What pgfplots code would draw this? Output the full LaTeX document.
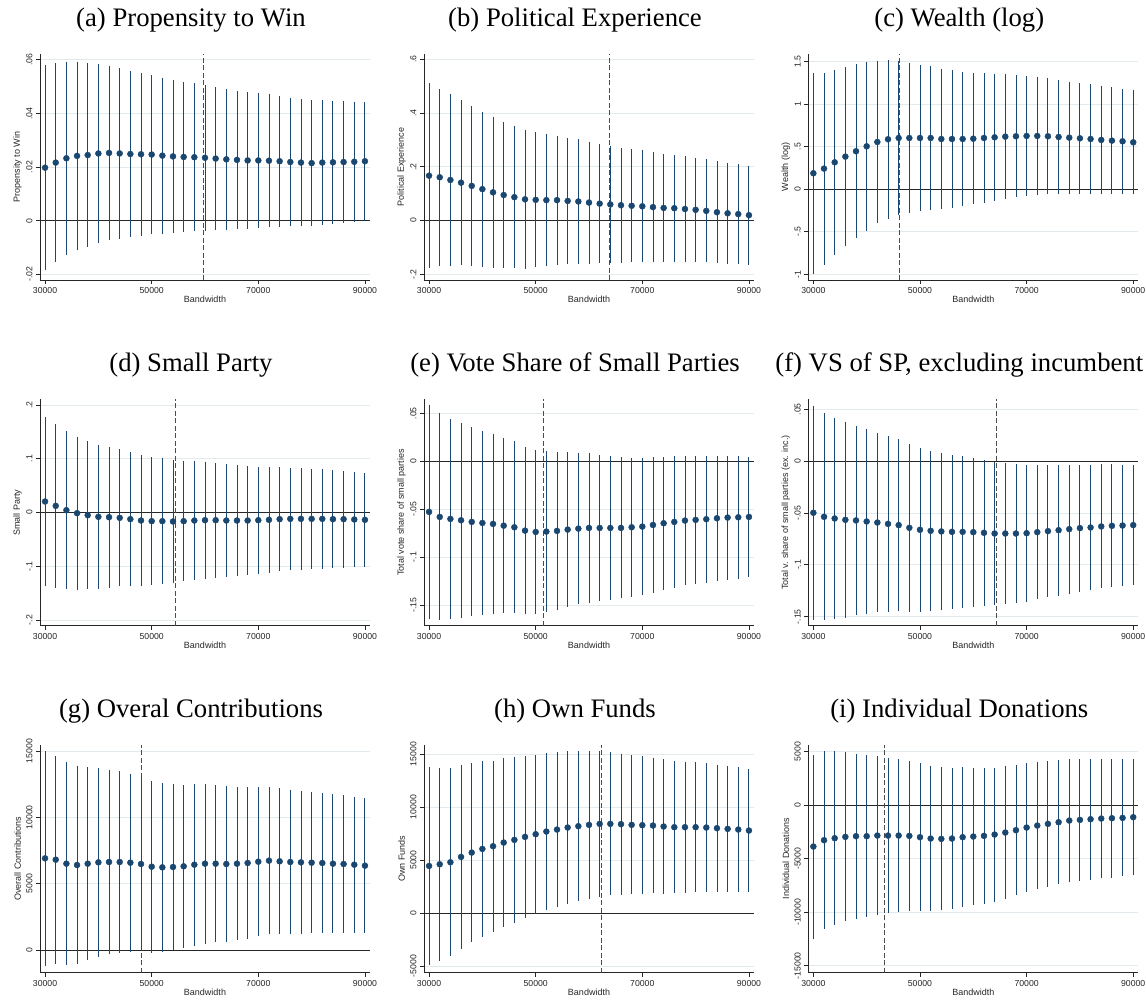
\documentclass[border=0pt]{standalone}
\usepackage{fontspec}
\setmainfont{Liberation Sans}
\newfontfamily\titlefont{Liberation Serif}
\usepackage{pgfplots}
\usepackage{pgfplotstable}
\pgfplotsset{compat=1.18}
\definecolor{navy}{RGB}{26,71,111}
\definecolor{gridc}{RGB}{226,234,237}

\pgfplotstableread{
x y e
30000 0.0198 0.0382
32000 0.0217 0.0371
34000 0.0233 0.0360
36000 0.0242 0.0352
38000 0.0245 0.0342
40000 0.0251 0.0334
42000 0.0253 0.0325
44000 0.0251 0.0318
46000 0.0249 0.0311
48000 0.0248 0.0304
50000 0.0247 0.0298
52000 0.0243 0.0291
54000 0.0240 0.0285
56000 0.0238 0.0281
58000 0.0237 0.0277
60000 0.0235 0.0272
62000 0.0232 0.0267
64000 0.0229 0.0263
66000 0.0227 0.0258
68000 0.0225 0.0255
70000 0.0225 0.0253
72000 0.0224 0.0248
74000 0.0222 0.0244
76000 0.0219 0.0240
78000 0.0217 0.0238
80000 0.0215 0.0234
82000 0.0217 0.0232
84000 0.0218 0.0230
86000 0.0219 0.0227
88000 0.0220 0.0224
90000 0.0222 0.0222
}\tabA

\pgfplotstableread{
x y e
30000 0.167 0.344
32000 0.161 0.330
34000 0.151 0.319
36000 0.141 0.307
38000 0.129 0.298
40000 0.117 0.288
42000 0.105 0.280
44000 0.095 0.271
46000 0.087 0.265
48000 0.079 0.258
50000 0.077 0.251
52000 0.076 0.246
54000 0.076 0.240
56000 0.073 0.236
58000 0.071 0.232
60000 0.067 0.227
62000 0.063 0.222
64000 0.060 0.219
66000 0.057 0.2145
68000 0.055 0.211
70000 0.053 0.208
72000 0.050 0.2045
74000 0.047 0.2015
76000 0.046 0.1995
78000 0.043 0.196
80000 0.040 0.1935
82000 0.036 0.1915
84000 0.031 0.190
86000 0.027 0.187
88000 0.024 0.185
90000 0.020 0.184
}\tabB

\pgfplotstableread{
x y e
30000 0.188 1.181
32000 0.243 1.130
34000 0.317 1.087
36000 0.384 1.054
38000 0.447 1.0225
40000 0.505 0.991
42000 0.556 0.958
44000 0.588 0.9365
46000 0.603 0.907
48000 0.603 0.887
50000 0.603 0.864
52000 0.603 0.846
54000 0.591 0.8245
56000 0.591 0.8065
58000 0.591 0.7895
60000 0.595 0.7735
62000 0.603 0.762
64000 0.611 0.748
66000 0.619 0.7305
68000 0.623 0.717
70000 0.627 0.701
72000 0.627 0.6895
74000 0.623 0.6815
76000 0.615 0.670
78000 0.607 0.660
80000 0.599 0.6525
82000 0.591 0.6425
84000 0.580 0.6345
86000 0.572 0.627
88000 0.564 0.619
90000 0.552 0.6095
}\tabC

\pgfplotstableread{
x y e
30000 0.0205 0.157
32000 0.0124 0.1525
34000 0.0043 0.1475
36000 -0.0012 0.1425
38000 -0.0050 0.138
40000 -0.0080 0.1345
42000 -0.0087 0.131
44000 -0.0099 0.1275
46000 -0.0124 0.125
48000 -0.0149 0.122
50000 -0.0161 0.119
52000 -0.0161 0.117
54000 -0.0167 0.114
56000 -0.0161 0.112
58000 -0.0149 0.1105
60000 -0.0143 0.1085
62000 -0.0143 0.107
64000 -0.0149 0.105
66000 -0.0149 0.103
68000 -0.0149 0.1015
70000 -0.0143 0.0995
72000 -0.0136 0.0983
74000 -0.0124 0.097
76000 -0.0118 0.0955
78000 -0.0118 0.0943
80000 -0.0118 0.093
82000 -0.0118 0.0924
84000 -0.0124 0.0915
86000 -0.0124 0.0902
88000 -0.0130 0.089
90000 -0.0136 0.0877
}\tabD

\pgfplotstableread{
x y e
30000 -0.0529 0.1115
32000 -0.0581 0.1079
34000 -0.0602 0.1044
36000 -0.0616 0.1016
38000 -0.0633 0.0986
40000 -0.0644 0.0959
42000 -0.0654 0.0936
44000 -0.0672 0.0916
46000 -0.0689 0.0896
48000 -0.0724 0.0873
50000 -0.0738 0.0856
52000 -0.0734 0.0838
54000 -0.0727 0.0825
56000 -0.0713 0.0807
58000 -0.0703 0.0791
60000 -0.0696 0.0778
62000 -0.0696 0.0762
64000 -0.0696 0.0748
66000 -0.0696 0.0736
68000 -0.0689 0.0726
70000 -0.0682 0.0715
72000 -0.0665 0.0705
74000 -0.0647 0.0696
76000 -0.0633 0.0687
78000 -0.0619 0.0677
80000 -0.0612 0.0668
82000 -0.0605 0.0661
84000 -0.0595 0.0652
86000 -0.0588 0.0646
88000 -0.0585 0.0639
90000 -0.0581 0.0630
}\tabE

\pgfplotstableread{
x y e
30000 -0.0498 0.1034
32000 -0.0537 0.0997
34000 -0.0553 0.0967
36000 -0.0566 0.0942
38000 -0.0572 0.0913
40000 -0.0582 0.0889
42000 -0.0592 0.0865
44000 -0.0605 0.0846
46000 -0.0617 0.0826
48000 -0.0643 0.0809
50000 -0.0662 0.0789
52000 -0.0672 0.0772
54000 -0.0678 0.0756
56000 -0.0682 0.0743
58000 -0.0682 0.0730
60000 -0.0685 0.0719
62000 -0.0691 0.0706
64000 -0.0698 0.0693
66000 -0.0698 0.0680
68000 -0.0698 0.0667
70000 -0.0695 0.0660
72000 -0.0685 0.0648
74000 -0.0675 0.0638
76000 -0.0666 0.0630
78000 -0.0656 0.0621
80000 -0.0646 0.0613
82000 -0.0640 0.0604
84000 -0.0630 0.0598
86000 -0.0624 0.0592
88000 -0.0621 0.0585
90000 -0.0617 0.0580
}\tabF

\pgfplotstableread{
x y e
30000 6910 8103
32000 6809 7839
34000 6508 7638
36000 6407 7462
38000 6508 7274
40000 6608 7098
42000 6633 6960
44000 6633 6847
46000 6583 6721
48000 6483 6558
50000 6281 6482
52000 6231 6344
54000 6256 6256
56000 6307 6168
58000 6432 6093
60000 6508 6018
62000 6508 5942
64000 6483 5854
66000 6508 5779
68000 6558 5704
70000 6658 5628
72000 6734 5565
74000 6684 5502
76000 6633 5427
78000 6608 5377
80000 6583 5314
82000 6558 5264
84000 6508 5226
86000 6483 5188
88000 6432 5138
90000 6357 5088
}\tabG

\pgfplotstableread{
x y e
30000 4442 9324
32000 4599 9104
34000 4788 8883
36000 5292 8647
38000 5702 8474
40000 6048 8285
42000 6300 8080
44000 6647 7954
46000 6899 7812
48000 7182 7670
50000 7434 7513
52000 7686 7418
54000 7875 7308
56000 8064 7182
58000 8190 7072
60000 8316 6977
62000 8411 6883
64000 8411 6757
66000 8379 6647
68000 8316 6552
70000 8285 6489
72000 8253 6410
74000 8159 6332
76000 8096 6253
78000 8096 6174
80000 8096 6111
82000 8064 6048
84000 8001 5985
86000 7938 5938
88000 7875 5875
90000 7781 5828
}\tabH

\pgfplotstableread{
x y e
30000 -3863 8598
32000 -3271 8333
34000 -3084 8115
36000 -2959 7897
38000 -2897 7710
40000 -2897 7570
42000 -2835 7398
44000 -2835 7242
46000 -2835 7149
48000 -2866 7025
50000 -2990 6900
52000 -3115 6791
54000 -3146 6682
56000 -3115 6604
58000 -2990 6542
60000 -2928 6433
62000 -2866 6355
64000 -2741 6261
66000 -2554 6199
68000 -2336 6074
70000 -2087 6012
72000 -1900 5966
74000 -1744 5888
76000 -1589 5810
78000 -1433 5748
80000 -1371 5685
82000 -1308 5639
84000 -1246 5592
86000 -1215 5545
88000 -1184 5467
90000 -1121 5405
}\tabI

\tikzset{
  zl/.style={black!85, line width=0.9pt},
  dl/.style={black!70, line width=1pt, dash pattern=on 5pt off 2.5pt},
}

\pgfplotsset{
  panel/.style={
    scale only axis, width=330pt,
    xmin=29050, xmax=90950,
    scaled x ticks=false, scaled y ticks=false,
    xtick={30000,50000,70000,90000},
    xticklabels={30000,50000,70000,90000},
    axis x line*=bottom, axis y line*=left,
    axis line style={black!85, line width=0.9pt},
    tick style={black!85, line width=0.8pt},
    major tick length=4pt, tick align=outside,
    ymajorgrids, grid style={gridc, line width=0.9pt},
    tick label style={font=\fontsize{8.7}{9}\selectfont, text=black!85},
    yticklabel style={rotate=90, anchor=south},
    label style={font=\fontsize{9}{10}\selectfont, text=black!85},
    xlabel={Bandwidth},
    xlabel style={at={(axis description cs:0.5,-0.086)}, anchor=center},
    ylabel style={at={(axis description cs:-0.068,0.5)}, anchor=center},
    title style={font=\titlefont\fontsize{26.7}{30}\selectfont, at={(axis description cs:0.4576,1)}, anchor=base, yshift=21.5pt},
    anchor=south west,
  },
  ci/.style={only marks, mark=*, mark size=3pt, color=navy, mark options={fill=navy, draw=navy},
    error bars/.cd, y dir=both, y explicit, error mark=none, error bar style={line width=0.9pt, navy}},
}

\begin{document}
\begin{tikzpicture}
\useasboundingbox (0pt,0pt) rectangle (1146pt,-999pt);

% ---- row 1
\begin{axis}[panel, at={(40pt,-280pt)}, height=226pt, ymin=-0.0221, ymax=0.0622,
  ytick={-0.02,0,0.02,0.04,0.06}, yticklabels={-.02,0,.02,.04,.06},
  ylabel={Propensity to Win}, title={(a) Propensity to Win}]
\draw[zl] (axis cs:29050,0) -- (axis cs:90950,0);
\draw[dl] (axis cs:59700,-0.0221) -- (axis cs:59700,0.0622);
\addplot+[ci] table[x=x,y=y,y error=e] {\tabA};
\end{axis}

\begin{axis}[panel, at={(424pt,-280pt)}, height=226pt, ymin=-0.2212, ymax=0.6197,
  ytick={-0.2,0,0.2,0.4,0.6}, yticklabels={-.2,0,.2,.4,.6},
  ylabel={Political Experience}, title={(b) Political Experience}]
\draw[zl] (axis cs:29050,0) -- (axis cs:90950,0);
\draw[dl] (axis cs:63900,-0.2212) -- (axis cs:63900,0.6197);
\addplot+[ci] table[x=x,y=y,y error=e] {\tabB};
\end{axis}

\begin{axis}[panel, at={(808.3pt,-280pt)}, height=226pt, ymin=-1.067, ymax=1.5905,
  ytick={-1,-0.5,0,0.5,1,1.5}, yticklabels={-1,-.5,0,.5,1,1.5},
  ylabel={Wealth (log)}, title={(c) Wealth (log)}]
\draw[zl] (axis cs:29050,0) -- (axis cs:90950,0);
\draw[dl] (axis cs:46100,-1.067) -- (axis cs:46100,1.5905);
\addplot+[ci] table[x=x,y=y,y error=e] {\tabC};
\end{axis}

% ---- row 2
\begin{axis}[panel, at={(40pt,-625.7pt)}, height=226.4pt, ymin=-0.2106, ymax=0.2106,
  ytick={-0.2,-0.1,0,0.1,0.2}, yticklabels={-.2,-.1,0,.1,.2},
  ylabel={Small Party}, title={(d) Small Party}]
\draw[zl] (axis cs:29050,0) -- (axis cs:90950,0);
\draw[dl] (axis cs:54500,-0.2106) -- (axis cs:54500,0.2106);
\addplot+[ci] table[x=x,y=y,y error=e] {\tabD};
\end{axis}

\begin{axis}[panel, at={(424pt,-625.7pt)}, height=226.4pt, ymin=-0.1716, ymax=0.0646,
  ytick={-0.15,-0.1,-0.05,0,0.05}, yticklabels={-.15,-.1,-.05,0,.05},
  ylabel={Total vote share of small parties}, title={(e) Vote Share of Small Parties}]
\draw[zl] (axis cs:29050,0) -- (axis cs:90950,0);
\draw[dl] (axis cs:51400,-0.1716) -- (axis cs:51400,0.0646);
\addplot+[ci] table[x=x,y=y,y error=e] {\tabE};
\end{axis}

\begin{axis}[panel, at={(808.3pt,-625.7pt)}, height=226.4pt, ymin=-0.1587, ymax=0.0596,
  ytick={-0.15,-0.1,-0.05,0,0.05}, yticklabels={-.15,-.1,-.05,0,.05},
  ylabel={Total v. share of small parties (ex. inc.)}, title={(f) VS of SP, excluding incumbent}]
\draw[zl] (axis cs:29050,0) -- (axis cs:90950,0);
\draw[dl] (axis cs:64400,-0.1587) -- (axis cs:64400,0.0596);
\addplot+[ci] table[x=x,y=y,y error=e] {\tabF};
\end{axis}

% ---- row 3
\begin{axis}[panel, at={(40pt,-972.7pt)}, height=227.7pt, ymin=-1712, ymax=15452,
  ytick={0,5000,10000,15000}, yticklabels={0,5000,10000,15000},
  ylabel={Overall Contributions}, title={(g) Overal Contributions}]
\draw[zl] (axis cs:29050,0) -- (axis cs:90950,0);
\draw[dl] (axis cs:48100,-1712) -- (axis cs:48100,15452);
\addplot+[ci] table[x=x,y=y,y error=e] {\tabG};
\end{axis}

\begin{axis}[panel, at={(424pt,-972.7pt)}, height=227.7pt, ymin=-5632, ymax=15849,
  ytick={-5000,0,5000,10000,15000}, yticklabels={-5000,0,5000,10000,15000},
  ylabel={Own Funds}, title={(h) Own Funds}]
\draw[zl] (axis cs:29050,0) -- (axis cs:90950,0);
\draw[dl] (axis cs:62400,-5632) -- (axis cs:62400,15849);
\addplot+[ci] table[x=x,y=y,y error=e] {\tabH};
\end{axis}

\begin{axis}[panel, at={(808.3pt,-972.7pt)}, height=227.7pt, ymin=-15654, ymax=5626,
  ytick={-15000,-10000,-5000,0,5000}, yticklabels={-15000,-10000,-5000,0,5000},
  ylabel={Individual Donations}, title={(i) Individual Donations}]
\draw[zl] (axis cs:29050,0) -- (axis cs:90950,0);
\draw[dl] (axis cs:43300,-15654) -- (axis cs:43300,5626);
\addplot+[ci] table[x=x,y=y,y error=e] {\tabI};
\end{axis}
\end{tikzpicture}
\end{document}
